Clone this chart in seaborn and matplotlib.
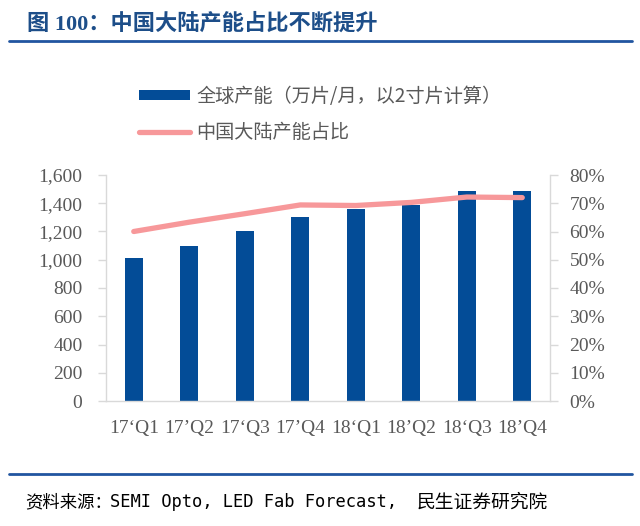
import numpy as np
import pandas as pd
import matplotlib
matplotlib.use("Agg")
import matplotlib.pyplot as plt
from matplotlib.lines import Line2D
from matplotlib.ticker import FuncFormatter
import seaborn as sns

quarters = ["17\u2018Q1", "17\u2019Q2", "17\u2018Q3", "17\u2019Q4",
            "18\u2018Q1", "18\u2019Q2", "18\u2018Q3", "18\u2019Q4"]
capacity = [1010, 1100, 1200, 1300, 1360, 1390, 1490, 1490]
china_share = [60.0, 63.3, 66.3, 69.4, 69.2, 70.3, 72.2, 72.0]
left_ticks = [0, 200, 400, 600, 800, 1000, 1200, 1400, 1600]
right_ticks = [0, 10, 20, 30, 40, 50, 60, 70, 80]

bar_label = "全球产能（万片/月，以2寸片计算）"
line_label = "中国大陆产能占比"
title = "图 100：中国大陆产能占比不断提升"
source_parts = ["资料来源：", "SEMI Opto, LED Fab Forecast,", "民生证券研究院"]

sns.set_style("white")
plt.rcParams['font.family'] = ['Liberation Serif', 'Noto Sans CJK SC', 'DejaVu Sans']

BAR = "#034C97"
LINE = "#F7989A"
AXC = "#D9D9D9"
TXT = "#595959"
NAVY = "#1D4E89"

df = pd.DataFrame({"q": quarters, "cap": capacity, "share": china_share})

fig = plt.figure(figsize=(6.4, 5.26), dpi=100)
W, H = 640, 526
ax = fig.add_axes([106 / W, 1 - 401 / H, (550 - 106) / W, 226 / H])

sns.barplot(data=df, x="q", y="cap", ax=ax, color=BAR, width=0.32,
            linewidth=0, saturation=1, label=bar_label)
ax.set_ylim(0, 1600)
ax.set_yticks(left_ticks)
ax.yaxis.set_major_formatter(FuncFormatter(lambda v, p: f"{int(v):,}"))
ax.set_xlim(-0.5, len(quarters) - 0.5)
ax.set_xlabel("")
ax.set_ylabel("")

ax2 = ax.twinx()
sns.lineplot(x=np.arange(len(quarters)), y=df["share"], ax=ax2, color=LINE,
             linewidth=3.8, solid_capstyle="round", label=line_label)
ax2.set_ylim(0, 80)
ax2.set_yticks(right_ticks)
ax2.yaxis.set_major_formatter(FuncFormatter(lambda v, p: f"{int(v)}%"))
ax2.set_ylabel("")
ax2.set_xlim(-0.5, len(quarters) - 0.5)
if ax2.get_legend():
    ax2.get_legend().remove()
if ax.get_legend():
    ax.get_legend().remove()

ax.set_xticks(np.arange(len(quarters)))
ax.set_xticklabels(quarters)
ax.set_xticks(np.arange(-0.5, len(quarters)), minor=True)
ax.tick_params(axis="x", which="major", length=0, pad=14, labelsize=14, labelcolor=TXT)
ax.tick_params(axis="x", which="minor", length=6, color=AXC, width=1, direction="out")
ax.tick_params(axis="y", length=6, color=AXC, width=1, pad=11, labelsize=14, labelcolor=TXT)
ax2.tick_params(axis="y", length=6, color=AXC, width=1, pad=8, labelsize=14, labelcolor=TXT)

for a in (ax, ax2):
    a.spines["top"].set_visible(False)
    for s in ("left", "right", "bottom"):
        a.spines[s].set_color(AXC)
        a.spines[s].set_linewidth(1)
    a.grid(False)
ax.spines["right"].set_visible(False)
ax2.spines["left"].set_visible(False)
ax2.spines["bottom"].set_visible(False)

handles = [ax.containers[0], ax2.lines[0]]
fig.legend(handles, [bar_label, line_label], loc="upper left",
           bbox_to_anchor=(139 / W, 1 - 86 / H), frameon=False,
           prop={"family": ["Noto Sans CJK SC"], "size": 13.8},
           labelcolor=TXT, handlelength=2.65, handleheight=0.45,
           handletextpad=0.35, labelspacing=0.8, borderpad=0, borderaxespad=0)

fig.text(27 / W, 1 - 24 / H, title, ha="left", va="center", fontsize=16,
         fontweight="bold", color=NAVY,
         family=["Liberation Serif", "Noto Sans CJK SC"])
fig.add_artist(Line2D([9 / W, 632 / W], [1 - 41 / H] * 2, transform=fig.transFigure,
                      color="#2155A0", linewidth=2))
fig.add_artist(Line2D([9 / W, 632 / W], [1 - 474 / H] * 2, transform=fig.transFigure,
                      color="#2155A0", linewidth=2))

sy = 1 - 502 / H
fig.text(25 / W, sy, source_parts[0], ha="left", va="center", fontsize=12.5,
         color="black", family=["Noto Sans CJK SC"])
fig.text(110 / W, sy, source_parts[1], ha="left", va="center", fontsize=12.3,
         color="black", family=["DejaVu Sans Mono"])
fig.text(417 / W, sy, source_parts[2], ha="left", va="center", fontsize=13.5,
         color="black", family=["Noto Sans CJK SC"])

fig.savefig("out.png", dpi=100)
